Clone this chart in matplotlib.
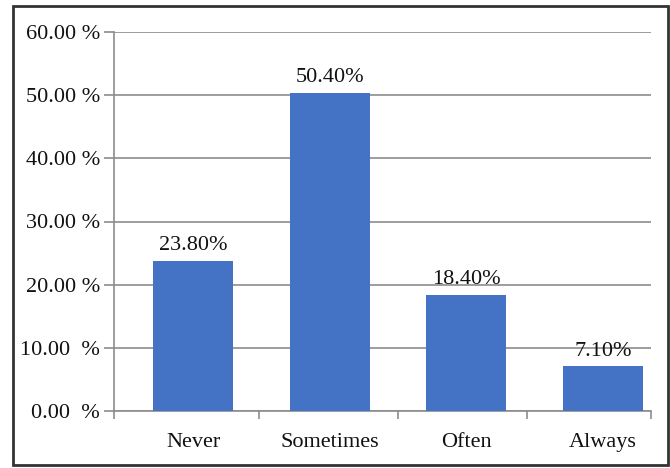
import matplotlib.pyplot as plt
from matplotlib.patches import Rectangle
import numpy as np

categories = ["Never", "Sometimes", "Often", "Always"]
values = [23.80, 50.40, 18.40, 7.10]
value_labels = ["23.80%", "50.40%", "18.40%", "7.10%"]
yticks = [0, 10, 20, 30, 40, 50, 60]
ytick_labels = ["0.00  %", "10.00  %", "20.00 %", "30.00 %", "40.00 %", "50.00 %", "60.00 %"]

plt.rcParams["font.family"] = ["Liberation Serif", "DejaVu Serif"]

fig = plt.figure(figsize=(6.7, 4.68), dpi=100)
ax = fig.add_axes([114 / 670, 1 - 411 / 468, (651 - 114) / 670, (411 - 32) / 468])

x = np.arange(len(categories))
ax.bar(x, values, width=0.585, color="#4472C4", zorder=3)
for xi, v, lab in zip(x, values, value_labels):
    ax.annotate(lab, (xi, v), xytext=(0, 4), textcoords="offset points",
                ha="center", va="bottom", fontsize=16, color="#111111")

ax.set_xlim(-0.578, 3.35)
ax.set_ylim(0, 60)
ax.set_yticks(yticks)
ax.set_yticklabels(ytick_labels, fontsize=16, color="#111111")
ax.yaxis.grid(True, color="#8c8c8c", linewidth=1.2, zorder=0)

# category boundary ticks on x axis, labels at bar centres
ax.set_xticks([-0.578, 0.48, 1.5, 2.44, 3.35])
ax.set_xticklabels([])
ax.set_xticks(x, minor=True)
ax.set_xticklabels(categories, minor=True, fontsize=16, color="#111111")
ax.tick_params(axis="x", which="minor", length=0, pad=16)
ax.tick_params(axis="x", which="major", length=6, color="#8c8c8c", width=1.2)
ax.tick_params(axis="y", length=7, color="#8c8c8c", width=1.2, pad=3)

for s in ["top", "right"]:
    ax.spines[s].set_visible(False)
for s in ["left", "bottom"]:
    ax.spines[s].set_color("#8c8c8c")
    ax.spines[s].set_linewidth(1.2)

fig.patches.append(Rectangle((13 / 670, 1 - 465 / 468), (668 - 13) / 670, (465 - 6) / 468,
                             transform=fig.transFigure, fill=False,
                             edgecolor="#333333", linewidth=2))

fig.savefig("out.png", dpi=100)
